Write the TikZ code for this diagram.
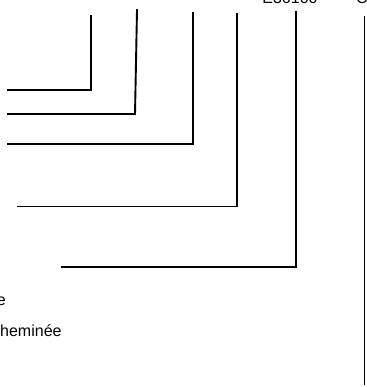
\documentclass[tikz,border=0pt]{standalone}
\usepackage{fontspec}
\setmainfont{Liberation Sans}
\usetikzlibrary{positioning}
\tikzset{every node/.append style={execute at begin node={\hyphenpenalty=10000\exhyphenpenalty=10000\relax}}}

\begin{document}
\begin{tikzpicture}[x=1pt, y=-1pt,
    leader/.style={draw, line width=1.9pt, line cap=rect},
    lbl/.style={inner sep=0pt, font=\fontsize{16}{19}\selectfont, anchor=base west}]
\useasboundingbox (0,0) rectangle (366,387);
% labels, cut by the frame
\node[lbl, anchor=base] (ref) at (290,4) {E36100};
\node[lbl] (refc) at (356,4) {C};
\node[lbl] (toit) at (-3.2,305) {e};
\node[lbl] (chem) at (0,336) {heminée};
% leader lines
\coordinate (ta) at (91,15.7);   \coordinate (ea) at (8,90);
\coordinate (tb) at (137,10);    \coordinate (cb) at (135,114);  \coordinate (eb) at (8,114);
\coordinate (tc) at (193,12.5);  \coordinate (ec) at (8,144.3);
\coordinate (td) at (237,14);    \coordinate (ed) at (18,206.5);
\coordinate (te) at (296,12);    \coordinate (ee) at (62,267);
\coordinate (tf) at (364.5,17);  \coordinate (ef) at (364.5,384);
\draw[leader] (ta) |- (ea);
\draw[leader] (tb) -- (cb) -- (eb);
\draw[leader] (tc) |- (ec);
\draw[leader] (td) |- (ed);
\draw[leader] (te) |- (ee);
\draw[leader] (tf) -- (ef);
\end{tikzpicture}
\end{document}
